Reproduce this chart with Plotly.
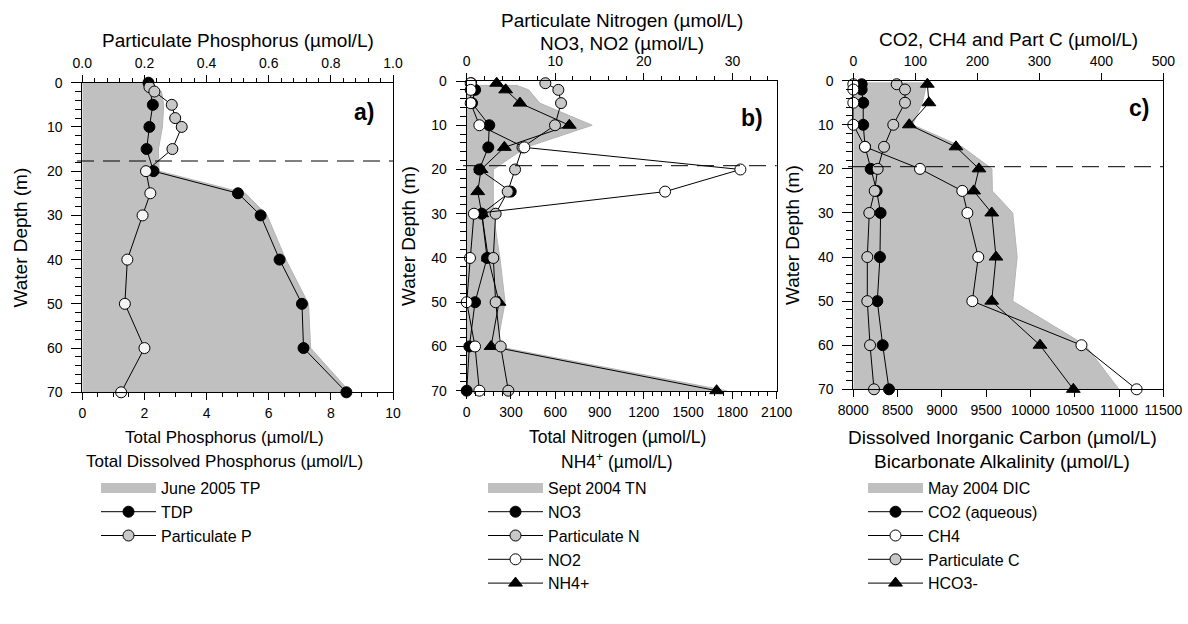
import plotly.graph_objects as go

# ---------------- data ----------------
# Panel a
tp_depth = [0, 2, 5, 10, 15, 20, 25, 30, 40, 50, 60, 70]
tp_val = [2.0, 2.55, 2.62, 2.58, 2.45, 2.47, 5.25, 5.95, 6.55, 7.28, 7.35, 8.62]
tdp_depth = [0, 5, 10, 15, 20, 25, 30, 40, 50, 60, 70]
tdp_val = [2.13, 2.27, 2.16, 2.07, 2.29, 5.01, 5.74, 6.35, 7.07, 7.12, 8.5]
pp_depth = [1, 2, 5, 8, 10, 15, 20, 25, 30, 40, 50, 60, 70]
pp_val = [0.216, 0.232, 0.288, 0.299, 0.32, 0.29, 0.205, 0.219, 0.194, 0.145, 0.137, 0.20, 0.125]

# Panel b
tn_depth = [1, 2, 5, 10, 15, 20, 25, 30, 40, 50, 60, 70]
tn_val = [340, 420, 495, 850, 400, 180, 180, 180, 225, 260, 205, 1760]
b_depth = [0.5, 2, 5, 10, 15, 20, 25, 30, 40, 50, 60, 70]
no3_val = [0.5, 0.95, 0.6, 2.55, 2.44, 1.43, 4.97, 1.7, 2.3, 0.94, 0.3, 0.0]
pn_val = [8.88, 10.35, 10.65, 9.97, 6.3, 5.46, 4.63, 3.27, 3.0, 3.27, 3.84, 4.7]
no2_val = [0.45, 0.45, 0.45, 1.43, 6.5, 30.9, 22.4, 0.82, 0.37, 0.0, 0.94, 1.43]
nh4_val = [203, 264, 361, 695, 255, 97, 75, 102, 146, 219, 165, 1693]

# Panel c
dic_depth = [0.5, 5, 10, 15, 20, 25, 30, 40, 50, 60, 70]
dic_val = [8830, 8780, 8670, 9230, 9565, 9570, 9800, 9850, 9800, 10620, 11000]
c_depth = [0.8, 2, 5, 10, 15, 20, 25, 30, 40, 50, 60, 70]
co2_val = [13.5, 13.5, 16, 16, 19, 28, 37.7, 44, 43, 38.7, 47.4, 57.6]
ch4_val = [0, 0, 0, 0, 18.8, 107.6, 175.8, 184, 201.6, 192, 368, 457]
pc_val = [70, 83.4, 83.4, 64.5, 49.5, 39.3, 34.5, 25.8, 22.6, 22.6, 27, 33.4]
hco3_depth = [0.8, 5, 10, 15, 20, 25, 30, 40, 50, 60, 70]
hco3_val = [8836, 8854, 8632, 9159, 9419, 9359, 9563, 9611, 9563, 10108, 10484]

# ---------------- layout helpers ----------------
W, H = 1188, 624
def px(x): return x / W
def py(y): return 1 - y / H

FONT = "Liberation Sans, Arial, sans-serif"
GREY = "#c0c0c0"
PGREY = "#c8c8c8"
MS = 11

fig = go.Figure()

def fill_trace(xv, yv, lo, xaxis, yaxis, name, legend):
    return go.Scatter(x=[lo] + xv + [lo], y=[yv[0]] + yv + [yv[-1]], fill="toself",
                      fillcolor=GREY, line=dict(color="#b4b4b4", width=1), mode="lines",
                      name=name, xaxis=xaxis, yaxis=yaxis, legend=legend,
                      showlegend=False, hoverinfo="skip")

def legend_box(name, legend, xaxis, yaxis):
    # legend-only entry standing for the filled profile
    return go.Scatter(x=[None], y=[None], mode="lines", name=name, legend=legend,
                      xaxis=xaxis, yaxis=yaxis,
                      line=dict(color=GREY, width=14))

def line_trace(xv, yv, xaxis, yaxis, name, legend, color, symbol="circle", size=MS):
    return go.Scatter(x=xv, y=yv, mode="lines+markers", name=name, xaxis=xaxis, yaxis=yaxis,
                      legend=legend, cliponaxis=False,
                      line=dict(color="black", width=1),
                      marker=dict(symbol=symbol, size=size, color=color,
                                  line=dict(color="black", width=1)))

# panel a
fig.add_trace(fill_trace(tp_val, tp_depth, 0, "x", "y", "June 2005 TP", "legend"))
fig.add_trace(legend_box("June 2005 TP", "legend", "x", "y"))
fig.add_trace(line_trace(tdp_val, tdp_depth, "x", "y", "TDP", "legend", "black"))
pp_colors = [PGREY if d < 20 else "#f4f4f4" for d in pp_depth]
fig.add_trace(line_trace(pp_val, pp_depth, "x2", "y", "Particulate P", "legend", pp_colors))

# panel b
fig.add_trace(fill_trace(tn_val, tn_depth, 0, "x3", "y2", "Sept 2004 TN", "legend2"))
fig.add_trace(legend_box("Sept 2004 TN", "legend2", "x3", "y2"))
fig.add_trace(line_trace(no3_val, b_depth, "x4", "y2", "NO3", "legend2", "black"))
fig.add_trace(line_trace(pn_val, b_depth, "x4", "y2", "Particulate N", "legend2", PGREY))
fig.add_trace(line_trace(no2_val, b_depth, "x4", "y2", "NO2", "legend2", "white"))
fig.add_trace(line_trace(nh4_val, b_depth, "x3", "y2", "NH4+", "legend2", "black", "triangle-up", 12))

# panel c
fig.add_trace(fill_trace(dic_val, dic_depth, 8000, "x5", "y3", "May 2004 DIC", "legend3"))
fig.add_trace(legend_box("May 2004 DIC", "legend3", "x5", "y3"))
fig.add_trace(line_trace(co2_val, c_depth, "x6", "y3", "CO2 (aqueous)", "legend3", "black"))
fig.add_trace(line_trace(ch4_val, c_depth, "x6", "y3", "CH4", "legend3", "white"))
fig.add_trace(line_trace(pc_val, c_depth, "x6", "y3", "Particulate C", "legend3", PGREY))
fig.add_trace(line_trace(hco3_val, hco3_depth, "x5", "y3", "HCO3-", "legend3", "black", "triangle-up", 12))

tickfont = dict(family=FONT, size=14, color="black")

def xax(dom, rng, dtick, minor, side, anchor, overlay=None, fmt=None):
    d = dict(domain=dom, range=rng, dtick=dtick, tick0=rng[0], side=side, anchor=anchor,
             showline=True, linecolor="black", linewidth=1, mirror=False,
             ticks="outside", ticklen=7, tickwidth=1, tickcolor="black",
             ticklabelstandoff=1, automargin=False,
             showgrid=False, zeroline=False, tickfont=tickfont, fixedrange=True,
             tickformat=fmt if fmt else "d")
    if minor:
        d["minor"] = dict(dtick=minor, tick0=rng[0], ticks="outside", ticklen=4,
                          tickcolor="black", tickwidth=1, showgrid=False)
    if overlay:
        d["overlaying"] = overlay
    return d

def yax(dom, anchor):
    return dict(domain=dom, range=[70, 0], dtick=10, tick0=0, anchor=anchor,
                showline=True, linecolor="black", linewidth=1, mirror=True,
                ticks="outside", ticklen=10, tickwidth=1, tickcolor="black",
                ticklabelstandoff=6, automargin=False,
                minor=dict(dtick=2, tick0=0, ticks="outside", ticklen=6, tickcolor="black", showgrid=False),
                showgrid=False, zeroline=False, tickfont=tickfont, fixedrange=True)

da = [px(82.3), px(393)]
db = [px(466.7), px(776.7)]
dc = [px(853.3), px(1163.3)]
ya = [py(392.3), py(82.7)]
yb = [py(390.7), py(81)]
yc = [py(389.3), py(80.7)]

fig.update_layout(
    template="none",
    width=W, height=H, margin=dict(l=0, r=0, t=0, b=0, autoexpand=False),
    paper_bgcolor="white", plot_bgcolor="white",
    font=dict(family=FONT, color="black"),
    xaxis=xax(da, [0, 10], 2, 0.5, "bottom", "y"),
    xaxis2=xax(da, [0, 1], 0.2, 0.04, "top", "y", overlay="x", fmt=".1f"),
    xaxis3=xax(db, [0, 2100], 300, 60, "bottom", "y2"),
    xaxis4=xax(db, [0, 35], 10, 2, "top", "y2", overlay="x3"),
    xaxis5=xax(dc, [8000, 11500], 500, None, "bottom", "y3"),
    xaxis6=xax(dc, [0, 500], 100, None, "top", "y3", overlay="x5"),
    yaxis=yax(ya, "x"),
    yaxis2=yax(yb, "x3"),
    yaxis3=yax(yc, "x5"),
    showlegend=True,
)

legfont = dict(family=FONT, size=16, color="black")
for key, xl in (("legend", 96), ("legend2", 483), ("legend3", 863)):
    fig.update_layout({key: dict(x=px(xl), y=py(471), xanchor="left", yanchor="top",
                                 font=legfont, bgcolor="rgba(0,0,0,0)", borderwidth=0,
                                 tracegroupgap=0, itemwidth=55, traceorder="normal")})

# dashed lines (boundary markers)
for x0, x1, y in ((77, 393, 161), (463, 776.7, 165.7), (848, 1163.3, 166.7)):
    fig.add_shape(type="line", xref="paper", yref="paper", x0=px(x0), x1=px(x1), y0=py(y), y1=py(y),
                  line=dict(color="black", width=1, dash="17px,9px"))

def ann(text, x, y, size=19, angle=0, bold=False):
    fig.add_annotation(text=f"<b>{text}</b>" if bold else text, x=px(x), y=py(y),
                       xref="paper", yref="paper", showarrow=False, textangle=angle,
                       xanchor="center", yanchor="middle",
                       font=dict(family=FONT, size=size, color="black"))

# titles
ann("Particulate Phosphorus (µmol/L)", 237.7, 40)
ann("Total Phosphorus (µmol/L)", 224, 437, size=17)
ann("Total Dissolved Phosphorus (µmol/L)", 224, 461, size=17)
ann("Water Depth (m)", 20, 237.5, angle=-90)
ann("Particulate Nitrogen (µmol/L)", 621.7, 21)
ann("NO3, NO2 (µmol/L)", 621.7, 44)
ann("Total Nitrogen (µmol/L)", 617, 437, size=17.5)
ann("NH4<sup>+</sup> (µmol/L)", 617, 461, size=17.5)
ann("Water Depth (m)", 408, 236, angle=-90)
ann("CO2, CH4 and Part C (µmol/L)", 1008.3, 39)
ann("Dissolved Inorganic Carbon (µmol/L)", 1002, 437, size=19)
ann("Bicarbonate Alkalinity (µmol/L)", 1002, 461, size=19)
ann("Water Depth (m)", 792, 235, angle=-90)
ann("a)", 364, 112, size=23, bold=True)
ann("b)", 752, 118, size=23, bold=True)
ann("c)", 1139, 108, size=23, bold=True)

fig.write_html("out.html")
